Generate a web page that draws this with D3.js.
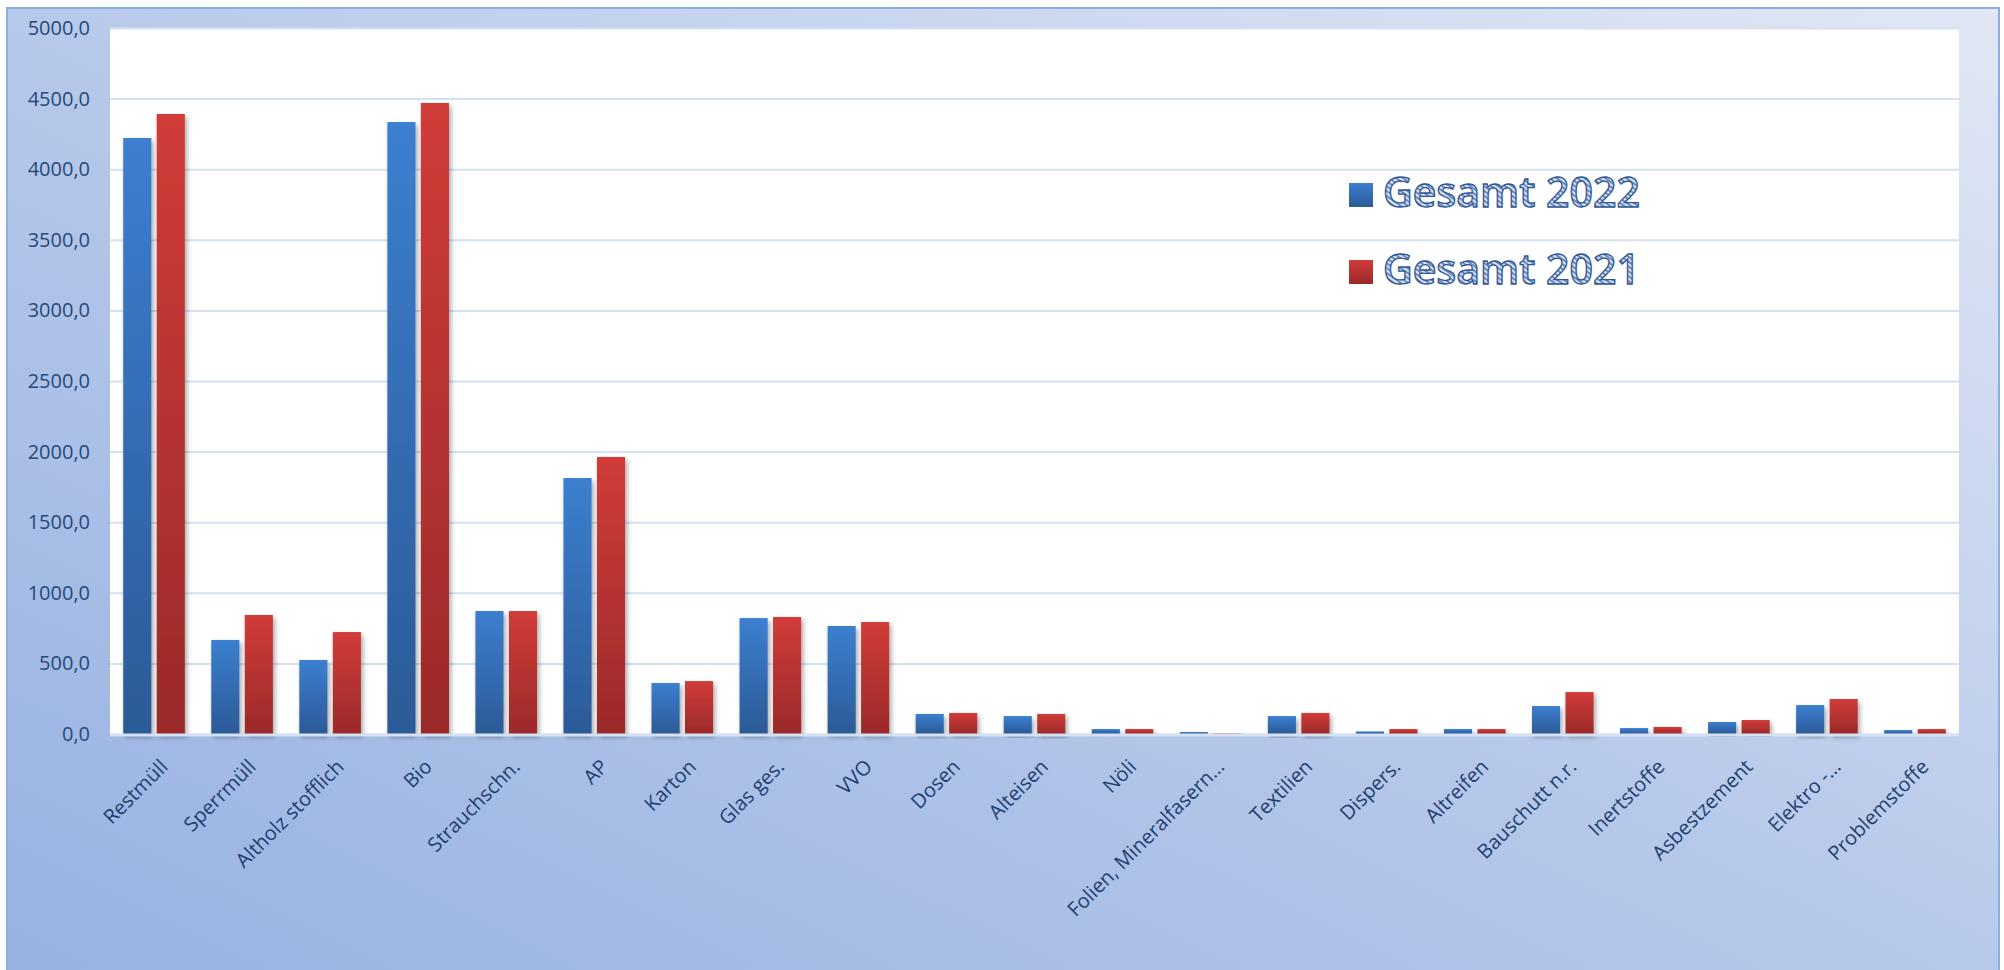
<html lang="de">
<head>
  <meta charset="UTF-8">
  <title>Gesamt 2022 / 2021</title>
  <script src="https://cdn.jsdelivr.net/npm/d3@7"></script>
  <style>
    body { margin: 0; background: #fff; }
    text { font-family: "Open Sans", sans-serif; }
  </style>
</head>
<body>
  <svg width="2004" height="970"></svg>

  <script>
    // Kategorien und Werte
    const categories = ["Restmüll", "Sperrmüll", "Altholz stofflich", "Bio", "Strauchschn.", "AP", "Karton",
      "Glas ges.", "VVO", "Dosen", "Alteisen", "Nöli", "Folien, Mineralfasern…", "Textilien", "Dispers.",
      "Altreifen", "Bauschutt n.r.", "Inertstoffe", "Asbestzement", "Elektro -…", "Problemstoffe"];
    const gesamt2022 = [4221, 666, 524, 4334, 871, 1813, 361, 821, 765, 142, 127, 35, 14, 127, 18, 35, 198, 42, 85, 205, 28];
    const gesamt2021 = [4391, 843, 722, 4469, 871, 1962, 375, 829, 793, 149, 142, 35, 4, 149, 35, 35, 297, 50, 99, 248, 35];
    const seriesNames = ["Gesamt 2022", "Gesamt 2021"];
    const yTicks = [0, 500, 1000, 1500, 2000, 2500, 3000, 3500, 4000, 4500, 5000];

    const svgWidth = 2004;
    const svgHeight = 970;
    const plot = { left: 110, right: 1959, top: 28, bottom: 734 };

    const svg = d3.select("svg");
    const defs = svg.append("defs");

    // Hintergrund-Verlauf
    const bg = defs.append("linearGradient").attr("id", "bg")
      .attr("x1", 0).attr("y1", 1).attr("x2", 1).attr("y2", 0);
    bg.append("stop").attr("offset", 0).attr("stop-color", "#97b2e1");
    bg.append("stop").attr("offset", 0.5).attr("stop-color", "#b7c9ea");
    bg.append("stop").attr("offset", 1).attr("stop-color", "#e1e7f5");

    // Balken-Verläufe
    const grads = [["blue", "#3c7fd0", "#2c5a97"], ["red", "#d13c38", "#9a2a2a"]];
    grads.forEach(([id, top, bottom]) => {
      const g = defs.append("linearGradient").attr("id", id)
        .attr("x1", 0).attr("y1", 0).attr("x2", 0).attr("y2", 1);
      g.append("stop").attr("offset", 0).attr("stop-color", top);
      g.append("stop").attr("offset", 1).attr("stop-color", bottom);
    });

    // Schatten
    const shadow = defs.append("filter").attr("id", "shadow")
      .attr("x", "-30%").attr("y", "-10%").attr("width", "170%").attr("height", "130%");
    shadow.append("feDropShadow").attr("dx", 2).attr("dy", 3).attr("stdDeviation", 2.5)
      .attr("flood-color", "#000").attr("flood-opacity", 0.35);

    // Schraffur für die Legende
    const hatch = defs.append("pattern").attr("id", "hatch")
      .attr("patternUnits", "userSpaceOnUse").attr("width", 4).attr("height", 4)
      .attr("patternTransform", "rotate(35)");
    hatch.append("rect").attr("width", 4).attr("height", 4).attr("fill", "#dbe4f3");
    hatch.append("line").attr("x1", 0).attr("y1", 1).attr("x2", 4).attr("y2", 1)
      .attr("stroke", "#3d66a6").attr("stroke-width", 1.4);

    // Rahmen
    svg.append("rect")
      .attr("x", 7).attr("y", 8)
      .attr("width", 1992).attr("height", svgHeight)
      .attr("fill", "url(#bg)")
      .attr("stroke", "#8caee2").attr("stroke-width", 2);

    // Zeichenfläche
    svg.append("rect")
      .attr("x", plot.left).attr("y", plot.top)
      .attr("width", plot.right - plot.left).attr("height", plot.bottom - plot.top)
      .attr("fill", "#ffffff");

    // Skalen
    const x0 = d3.scaleBand()
      .domain(categories)
      .range([plot.left, plot.right])
      .paddingInner(0.3)
      .paddingOuter(0.15);

    const x1 = d3.scaleBand()
      .domain(seriesNames)
      .range([0, x0.bandwidth()])
      .paddingInner(0.16);

    const y = d3.scaleLinear()
      .domain([0, 5000])
      .range([plot.bottom, plot.top]);

    // Gitternetz
    svg.append("g")
      .attr("transform", `translate(${plot.left},0)`)
      .call(d3.axisLeft(y).tickValues(yTicks).tickSize(-(plot.right - plot.left)).tickFormat(""))
      .call(g => g.select(".domain").remove())
      .call(g => g.selectAll("line").attr("stroke", "#d3e1f2").attr("stroke-width", 2));

    // Y-Achse
    svg.append("g")
      .attr("transform", `translate(${plot.left},0)`)
      .call(d3.axisLeft(y).tickValues(yTicks).tickSize(0).tickPadding(20)
        .tickFormat(d => d.toFixed(1).replace(".", ",")))
      .call(g => g.select(".domain").remove())
      .call(g => g.selectAll("text")
        .attr("fill", "#27497a")
        .style("font-size", "20px")
        .style("font-family", "'Open Sans', sans-serif"));

    // Balken
    const rows = categories.map((c, i) => ({ cat: c, vals: [gesamt2022[i], gesamt2021[i]] }));
    const groups = svg.append("g").selectAll("g")
      .data(rows)
      .join("g")
      .attr("transform", d => `translate(${x0(d.cat)},0)`);

    groups.selectAll("rect")
      .data(d => d.vals.map((v, k) => ({ key: seriesNames[k], v, fill: k === 0 ? "url(#blue)" : "url(#red)" })))
      .join("rect")
      .attr("x", d => x1(d.key))
      .attr("y", d => y(d.v))
      .attr("width", x1.bandwidth())
      .attr("height", d => Math.max(1, y(0) - y(d.v)))
      .attr("fill", d => d.fill)
      .attr("filter", "url(#shadow)");

    // Nulllinie
    svg.append("line")
      .attr("x1", plot.left).attr("x2", plot.right)
      .attr("y1", y(0) + 1).attr("y2", y(0) + 1)
      .attr("stroke", "#d6e1f1").attr("stroke-width", 3);

    // X-Achsenbeschriftung
    svg.append("g").selectAll("text")
      .data(categories)
      .join("text")
      .attr("transform", d => `translate(${x0(d) + x0.bandwidth() / 2 + 15},${y(0) + 34}) rotate(-45)`)
      .attr("text-anchor", "end")
      .attr("fill", "#1f3f6f")
      .style("font-size", "20px")
      .text(d => d);

    // Legende
    const legend = svg.append("g").attr("transform", "translate(1349,183)");
    seriesNames.forEach((name, k) => {
      const row = legend.append("g").attr("transform", `translate(0,${k * 77})`);
      row.append("rect")
        .attr("width", 24).attr("height", 24)
        .attr("fill", k === 0 ? "url(#blue)" : "url(#red)");
      row.append("text")
        .attr("x", 34).attr("y", 24)
        .attr("fill", "url(#hatch)")
        .attr("stroke", "#2e5694").attr("stroke-width", 1.3)
        .style("font-size", "41px")
        .style("font-weight", 600)
        .text(name);
    });
  </script>
</body>
</html>
